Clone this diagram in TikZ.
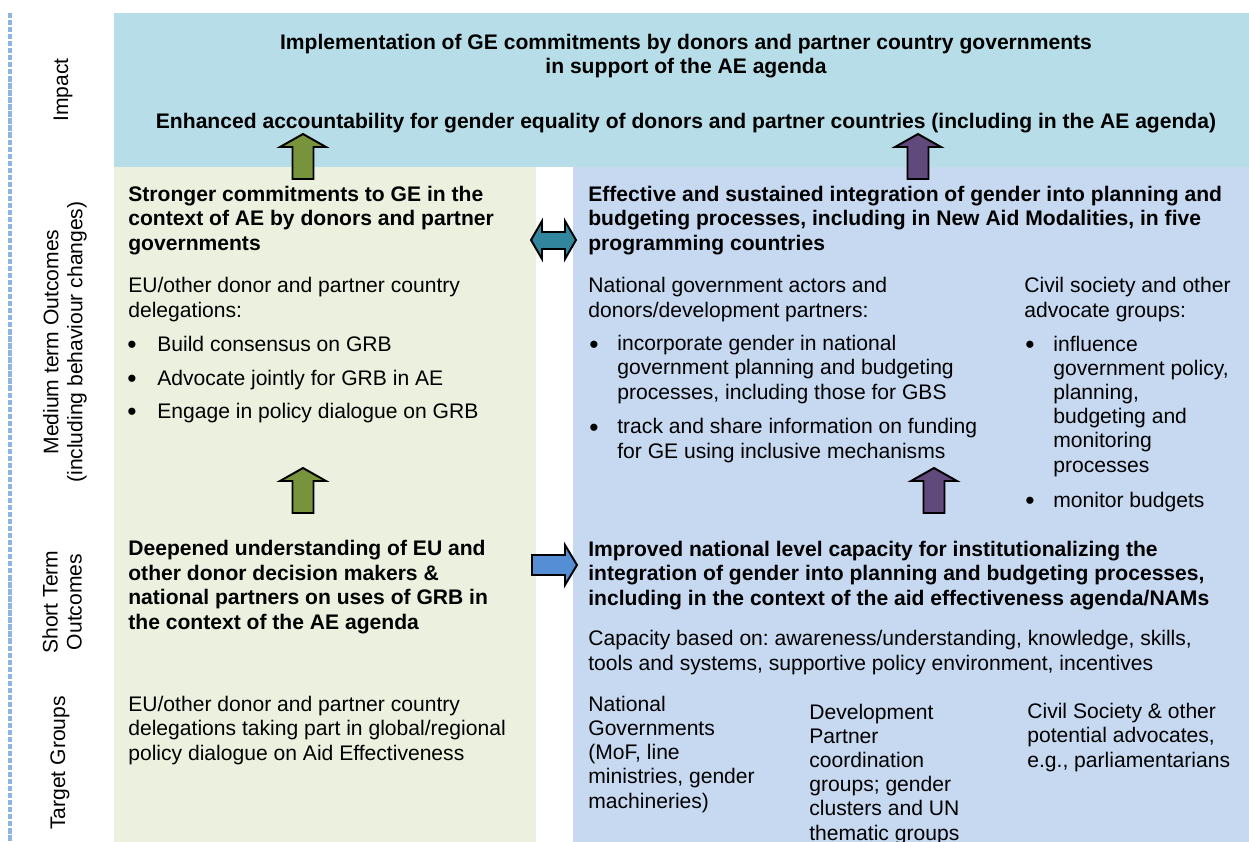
\documentclass[tikz,border=0pt]{standalone}
\usepackage{fontspec}
\setmainfont{Liberation Sans}
\frenchspacing
\definecolor{impactbg}{HTML}{B7DEE8}
\definecolor{greenbg}{HTML}{EBF1DE}
\definecolor{bluebg}{HTML}{C6D9F1}
\definecolor{greenarr}{HTML}{77933C}
\definecolor{purplearr}{HTML}{604A7B}
\definecolor{tealarr}{HTML}{31859C}
\definecolor{bluearr}{HTML}{558ED5}
\definecolor{sideline}{HTML}{8EB4E3}

\begin{document}
\begin{tikzpicture}[x=0.02cm, y=-0.02cm, every node/.style={inner sep=0pt, text=black}]
  \useasboundingbox (0,0) rectangle (1249,842);
  \clip (0,0) rectangle (1249,842);

  % three coloured panels behind the text
  \fill[impactbg] (114,13) rectangle (1249,167);
  \fill[greenbg] (114,167) rectangle (536,842);
  \fill[bluebg] (573,167) rectangle (1249,842);
  \draw[sideline, line width=2.5pt, dash pattern=on 3pt off 1pt] (10,13) -- (10,842);

  % multi-line nodes sit on the baseline of their last line
  \tikzset{body/.style={font=\fontsize{12}{13.7}\selectfont, align=left, anchor=base west},
           head/.style={body, font=\fontsize{12}{13.9}\selectfont\bfseries},
           side/.style={font=\fontsize{12}{13.7}\selectfont, align=center, rotate=90},
           dot/.style={font=\fontsize{15}{15}\selectfont, anchor=base west, yshift=-1.5pt},
           blk/.style={draw=black, line width=1.1pt, line join=miter},
           uparr/.pic={\draw[blk, pic actions] (-10.5,0) -- (-10.5,-32) -- (-23,-32) -- (0,-45)
                        -- (23,-32) -- (10.5,-32) -- (10.5,0) -- cycle;}}

  % row labels
  \node[side] (impactlbl) at (63,90) {Impact};
  \node[side] (midlbl) at (65,342) {Medium term Outcomes\\(including behaviour changes)};
  \node[side] (shortlbl) at (62,602) {Short Term\\Outcomes};
  \node[side] (tgtlbl) at (60,763) {Target Groups};

  % impact
  \node[head, anchor=base, align=center] (impl) at (686,73.5)
    {Implementation of GE commitments by donors and partner country governments\\in support of the AE agenda};
  \node[head, anchor=base] (account) at (686,128)
    {Enhanced accountability for gender equality of donors and partner countries (including in the AE agenda)};

  % left column
  \node[head] (strong) at (128,250) {Stronger commitments to GE in the\\context of AE by donors and partner\\governments};
  \node[body] (eudel) at (128,317) {EU/other donor and partner country\\delegations:};
  \node[dot] (dota) at (127,351) {\textbullet};
  \node[body] (build) at (157,351) {Build consensus on GRB};
  \node[dot] (dotb) at (127,385) {\textbullet};
  \node[body] (advoc) at (157,385) {Advocate jointly for GRB in AE};
  \node[dot] (dotc) at (127,418) {\textbullet};
  \node[body] (engage) at (157,418) {Engage in policy dialogue on GRB};
  \node[head] (deep) at (128,629) {Deepened understanding of EU and\\other donor decision makers \&\\national partners on uses of GRB in\\the context of the AE agenda};
  \node[body] (eutgt) at (128,760) {EU/other donor and partner country\\delegations taking part in global/regional\\policy dialogue on Aid Effectiveness};

  % right column
  \node[head] (effect) at (588,250) {Effective and sustained integration of gender into planning and\\budgeting processes, including in New Aid Modalities, in five\\programming countries};
  \node[body] (natact) at (588,317) {National government actors and\\donors/development partners:};
  \node[dot] (dotd) at (589,351) {\textbullet};
  \node[body] (incorp) at (617,399) {incorporate gender in national\\government planning and budgeting\\processes, including those for GBS};
  \node[dot] (dote) at (589,434) {\textbullet};
  \node[body] (track) at (617,458) {track and share information on funding\\for GE using inclusive mechanisms};
  \node[body] (civil) at (1024,317) {Civil society and other\\advocate groups:};
  \node[dot] (dotf) at (1025,351) {\textbullet};
  \node[body] (influ) at (1053,472) {influence\\government policy,\\planning,\\budgeting and\\monitoring\\processes};
  \node[dot] (dotg) at (1025,507) {\textbullet};
  \node[body] (monit) at (1053,507) {monitor budgets};
  \node[head] (improve) at (588,605) {Improved national level capacity for institutionalizing the\\integration of gender into planning and budgeting processes,\\including in the context of the aid effectiveness agenda/NAMs};
  \node[body] (capac) at (588,670) {Capacity based on: awareness/understanding, knowledge, skills,\\tools and systems, supportive policy environment, incentives};
  \node[body] (natgov) at (588,808) {National\\Governments\\(MoF, line\\ministries, gender\\machineries)};
  \node[body] (devpart) at (809,840) {Development\\Partner\\coordination\\groups; gender\\clusters and UN\\thematic groups};
  \node[body] (civtgt) at (1027,767) {Civil Society \& other\\potential advocates,\\e.g., parliamentarians};

  % block arrows
  \pic[fill=greenarr] at (303,179) {uparr};
  \pic[fill=purplearr] at (918,179) {uparr};
  \pic[fill=greenarr] at (303,513) {uparr};
  \pic[fill=purplearr] at (934,513) {uparr};
  \draw[blk, fill=tealarr] (531,240) -- (542,221) -- (542,232) -- (565,232) -- (565,221) -- (576,240)
    -- (565,259) -- (565,249) -- (542,249) -- (542,259) -- cycle;
  \draw[blk, fill=bluearr] (532,555) -- (565,555) -- (565,545) -- (577,565) -- (565,585) -- (565,575)
    -- (532,575) -- cycle;
\end{tikzpicture}
\end{document}
